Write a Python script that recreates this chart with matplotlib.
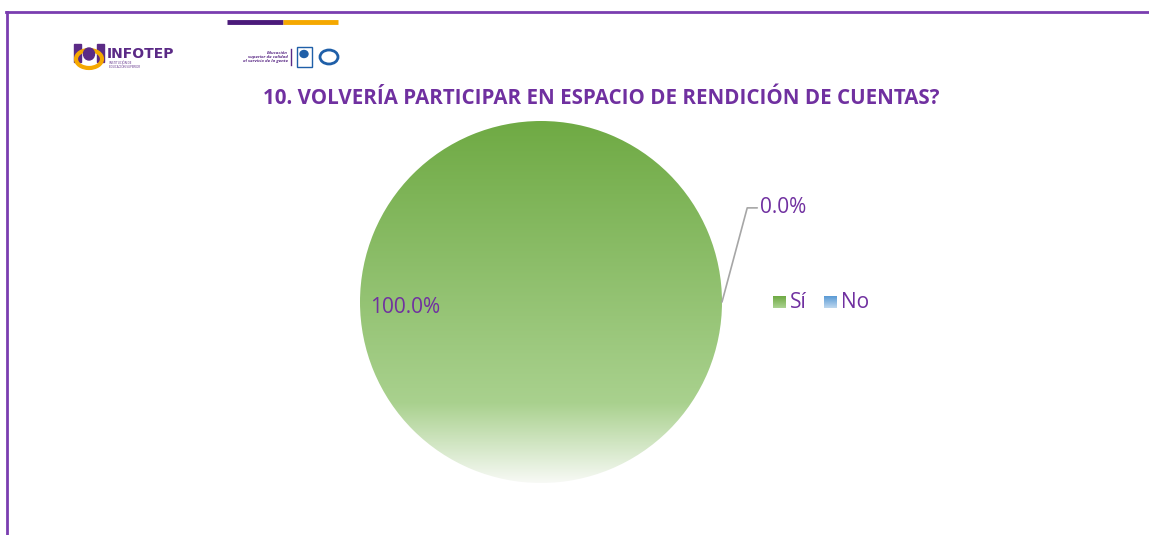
import numpy as np
import matplotlib.pyplot as plt
from matplotlib.colors import LinearSegmentedColormap
from matplotlib.patches import Rectangle, Ellipse

title = "10. VOLVERÍA PARTICIPAR EN ESPACIO DE RENDICIÓN DE CUENTAS?"
labels = ["Sí", "No"]
values = [100.0, 0.0]

purple = "#7030A0"
green_cmap = LinearSegmentedColormap.from_list(
    "g", [(0, "#6FAA44"), (0.78, "#A9D18E"), (1.0, "#F7F9F5")]
)
blue_cmap = LinearSegmentedColormap.from_list("b", ["#5B9BD5", "#D6E6F5"])

plt.rcParams["font.family"] = ["Open Sans", "DejaVu Sans"]

fig = plt.figure(figsize=(11.49, 5.35), dpi=100)

# frame lines and header bar
fig.add_artist(plt.Line2D([6 / 1149, 1], [1 - 11.5 / 535] * 2, color="#7A3DB0", lw=2))
fig.add_artist(plt.Line2D([6.5 / 1149] * 2, [0, 1 - 11.5 / 535], color="#7A3DB0", lw=2))
fig.add_artist(plt.Line2D([227 / 1149, 283 / 1149], [1 - 22 / 535] * 2, color="#4B1A7A", lw=3.5, solid_capstyle="butt"))
fig.add_artist(plt.Line2D([283 / 1149, 338 / 1149], [1 - 22 / 535] * 2, color="#F5A800", lw=3.5, solid_capstyle="butt"))

# logos (approximation)
lg = fig.add_axes([0, 0, 1, 1], zorder=0)
lg.set_xlim(0, 1149)
lg.set_ylim(535, 0)
lg.axis("off")
lg.add_patch(Rectangle((74, 44), 7, 18, color="#5B2A86"))
lg.add_patch(Rectangle((97, 44), 7, 18, color="#5B2A86"))
lg.add_patch(Ellipse((89, 59), 26, 18, fill=False, ec="#F5A800", lw=3))
lg.add_patch(Ellipse((89, 54), 11, 12, color="#5B2A86"))
lg.text(107, 54, "INFOTEP", fontsize=10, fontweight="bold", color="#5B2A86", va="center", family="DejaVu Sans")
lg.text(109, 65, "INSTITUCIÓN DE\nEDUCACIÓN SUPERIOR", fontsize=2.2, color="#5B2A86", va="center")
lg.text(288, 57, "Educación\nsuperior de calidad\nal servicio de la gente", fontsize=3.2, color="#5B2A86",
        ha="right", va="center", style="italic", fontweight="bold", linespacing=0.9)
lg.plot([291, 291], [49, 65], color="#5B2A86", lw=1)
lg.add_patch(Rectangle((297, 47), 15, 20, fill=False, ec="#1F5FA8", lw=1))
lg.add_patch(Ellipse((304, 54), 8, 7, color="#1F5FA8"))
lg.add_patch(Ellipse((329, 57), 18, 14, fill=False, ec="#1F5FA8", lw=2))

fig.text(601 / 1149, 1 - 98 / 535, title, ha="center", va="center", fontsize=14.8,
         fontweight="bold", color=purple)

# pie
ax = fig.add_axes([360 / 1149, 1 - 483 / 535, 362 / 1149, 362 / 535], zorder=1)
wedges, _ = ax.pie(values, startangle=90, counterclock=False, radius=1,
                   wedgeprops=dict(linewidth=0))
ax.set_xlim(-1, 1)
ax.set_ylim(-1, 1)
ax.set_aspect("auto")
ax.axis("off")

grad = np.linspace(0, 1, 256).reshape(-1, 1)
for w, cm in zip(wedges, [green_cmap, blue_cmap]):
    w.set_facecolor("none")
    im = ax.imshow(grad, cmap=cm, extent=(-1, 1, -1, 1), origin="upper", aspect="auto", zorder=0)
    im.set_clip_path(w)

total = sum(values)
pct = [f"{v / total * 100:.1f}%" for v in values]
ax.text(-0.945, -0.03, pct[0], ha="left", va="center", fontsize=15, color=purple)
ax.annotate(pct[1], xy=(1.0, 0.0), xytext=(1.21, 0.52), ha="left", va="center",
            fontsize=15, color=purple, annotation_clip=False,
            arrowprops=dict(arrowstyle="-", color="#A6A6A6", lw=1.2,
                            connectionstyle="angle,angleA=0,angleB=75,rad=0",
                            shrinkA=0, shrinkB=0))

# legend
for i, (lab, cm) in enumerate(zip(labels, [green_cmap, blue_cmap])):
    x0 = [773, 824][i]
    lx = fig.add_axes([x0 / 1149, 1 - 308 / 535, 13 / 1149, 12 / 535])
    lx.imshow(np.linspace(0, 0.8, 32).reshape(-1, 1), cmap=cm, aspect="auto", vmin=0, vmax=1)
    lx.axis("off")
    fig.text((x0 + 17) / 1149, 1 - 302 / 535, lab, fontsize=15, color=purple, va="center")

fig.savefig("out.png", dpi=100)
